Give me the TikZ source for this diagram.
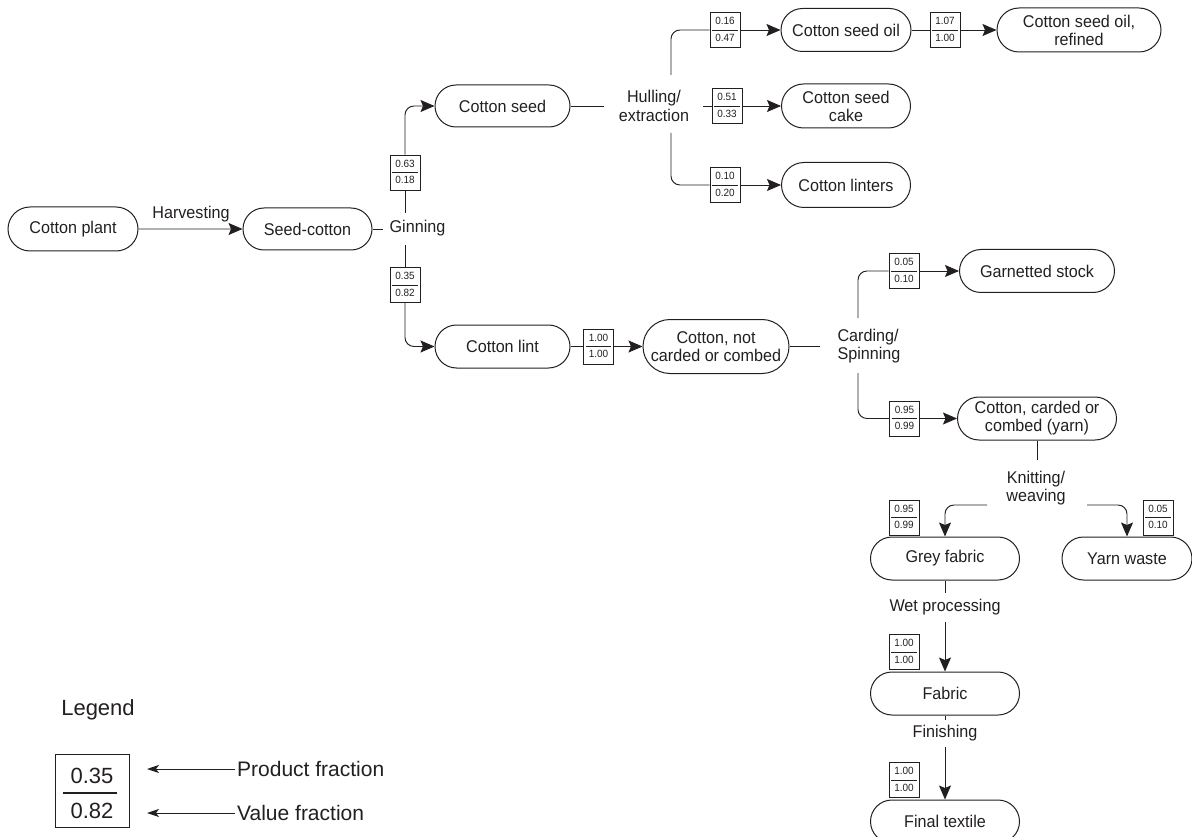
\documentclass[tikz,border=0pt]{standalone}
\usepackage{fontspec}
\setmainfont{Liberation Sans}[FakeStretch=0.95]
\newfontfamily\legfont{Liberation Sans}
\usetikzlibrary{shapes.misc,arrows.meta}
\definecolor{ink}{HTML}{231F20}
\setlength\arrayrulewidth{0.8pt}
\newcommand\frc[2]{\renewcommand\arraystretch{1.3}\begin{tabular}{@{\hspace{3pt}}c@{\hspace{3pt}}}#1\\\hline #2\end{tabular}}
\tikzset{
 proc/.style={draw=ink, rounded rectangle, line width=1pt, inner sep=0pt, align=center, font=\fontsize{17}{18}\selectfont, text=ink},
 lbl/.style={align=center, inner sep=0pt, font=\fontsize{17}{18.5}\selectfont, text=ink},
 fr/.style={draw=ink, line width=0.8pt, minimum width=30pt, minimum height=35pt, inner sep=0pt, font=\fontsize{10.5}{12}\selectfont, text=ink},
 ln/.style={draw=ink, line width=0.95pt},
 tip/.style={-{Stealth[length=14pt,width=12pt,inset=2.5pt]}},
 arr/.style={ln, tip},
 br/.style={ln, rounded corners=9pt},
 legarr/.style={ln, -{Stealth[length=12pt,width=8pt,inset=3pt]}},
 legtext/.style={inner sep=2pt, text=ink, font=\legfont\fontsize{21}{24}\selectfont},
}
\begin{document}
\begin{tikzpicture}[x=1pt,y=-1pt]
\useasboundingbox (0,0) rectangle (1192,837);
% first stage
\node[proc,minimum width=130pt,minimum height=44pt] (plant) at (73,229) {Cotton plant};
\node[proc,minimum width=129pt,minimum height=42pt] (seedc) at (307.5,229) {Seed-cotton};
\draw[arr] (plant) -- (seedc);
\node[lbl] (harv) at (191,214) {Harvesting};
\node[lbl] (ginning) at (417.5,228) {Ginning};
\coordinate (gstub) at (383,229);
\draw[ln] (seedc.east) -- (gstub);
\coordinate (gtop) at (405,213);
\coordinate (gbot) at (405,245);
\node[fr] (g1) at (405,172.5) {\frc{0.63}{0.18}};
\node[fr] (g2) at (405,285) {\frc{0.35}{0.82}};
\node[proc,minimum width=135pt,minimum height=42pt] (seed) at (502.5,106) {Cotton seed};
\node[proc,minimum width=135pt,minimum height=43pt] (lint) at (502.5,346.5) {Cotton lint};
\draw[ln] (gtop) -- (g1.south);
\draw[br,tip] (g1.north) |- (seed.west);
\draw[ln] (gbot) -- (g2.north);
\draw[br,tip] (g2.south) |- (lint.west);
% hulling
\node[lbl] (hull) at (654,106) {Hulling/\\extraction};
\coordinate (hin) at (604,106);
\draw[ln] (seed.east) -- (hin);
\coordinate (hup) at (671,75);
\coordinate (hdn) at (671,133);
\coordinate (hmid) at (703,106);
\node[fr] (h1) at (725,30) {\frc{0.16}{0.47}};
\node[fr] (h2) at (727,106) {\frc{0.51}{0.33}};
\node[fr] (h3) at (725,185) {\frc{0.10}{0.20}};
\node[proc,minimum width=130pt,minimum height=43pt] (oil) at (846,30) {Cotton seed oil};
\node[proc,minimum width=129pt,minimum height=44pt] (cake) at (846,106) {Cotton seed\\cake};
\node[proc,minimum width=129pt,minimum height=45pt] (linters) at (846,185) {Cotton linters};
\draw[br] (hup) |- (h1.west);
\draw[arr] (h1.east) -- (oil.west);
\draw[ln] (hmid) -- (h2.west);
\draw[arr] (h2.east) -- (cake.west);
\draw[br] (hdn) |- (h3.west);
\draw[arr] (h3.east) -- (linters.west);
\node[fr] (r1) at (945,30) {\frc{1.07}{1.00}};
\node[proc,minimum width=164pt,minimum height=44pt] (refined) at (1079,30) {Cotton seed oil,\\refined};
\draw[ln] (oil.east) -- (r1.west);
\draw[arr] (r1.east) -- (refined.west);
% lint
\node[fr] (l1) at (598.5,346.5) {\frc{1.00}{1.00}};
\node[proc,minimum width=146pt,minimum height=54pt] (notc) at (716,346.5) {Cotton, not\\carded or combed};
\draw[ln] (lint.east) -- (l1.west);
\draw[arr] (l1.east) -- (notc.west);
\coordinate (cin) at (820,346.5);
\draw[ln] (notc.east) -- (cin);
\node[lbl,align=left] (card) at (869,346) {Carding/\\Spinning};
\coordinate (cup) at (858,318);
\coordinate (cdn) at (858,373);
\node[fr] (c1) at (904,271) {\frc{0.05}{0.10}};
\node[fr] (c2) at (904.5,418.5) {\frc{0.95}{0.99}};
\node[proc,minimum width=155pt,minimum height=43pt] (garn) at (1037,271) {Garnetted stock};
\node[proc,minimum width=159pt,minimum height=43pt] (yarn) at (1037,418.5) {Cotton, carded or\\combed (yarn)};
\draw[br] (cup) |- (c1.west);
\draw[arr] (c1.east) -- (garn.west);
\draw[br] (cdn) |- (c2.west);
\draw[arr] (c2.east) -- (yarn.west);
% knitting
\coordinate (kin) at (1037,460);
\draw[ln] (yarn.south) -- (kin);
\node[lbl] (knit) at (1036,488) {Knitting/\\weaving};
\coordinate (kl) at (987,505);
\coordinate (kr) at (1087,505);
\node[proc,minimum width=149pt,minimum height=43pt] (grey) at (945,558.5) {Grey fabric};
\node[proc,minimum width=130pt,minimum height=43pt] (waste) at (1127,558.5) {Yarn waste};
\draw[br,tip] (kl) -| (grey.north);
\draw[br,tip] (kr) -| (waste.north);
\node[fr] (k1) at (904,517.5) {\frc{0.95}{0.99}};
\node[fr] (k2) at (1158,517.5) {\frc{0.05}{0.10}};
% wet processing / finishing
\coordinate (wstub) at (945,593);
\draw[ln] (grey.south) -- (wstub);
\node[lbl] (wet) at (945,607) {Wet processing};
\coordinate (wout) at (945,622);
\node[proc,minimum width=149pt,minimum height=43pt] (fabric) at (945,693.5) {Fabric};
\draw[arr] (wout) -- (fabric.north);
\node[fr] (f1) at (904,652) {\frc{1.00}{1.00}};
\coordinate (fstub) at (945,720);
\draw[ln] (fabric.south) -- (fstub);
\node[lbl] (fin) at (945,733) {Finishing};
\coordinate (fout) at (945,747);
\node[proc,minimum width=149pt,minimum height=43pt] (final) at (945,821.5) {Final textile};
\draw[arr] (fout) -- (final.north);
\node[fr] (f2) at (904,780) {\frc{1.00}{1.00}};
% legend
\node[legtext,inner sep=0pt,font=\legfont\fontsize{22}{26}\selectfont] (leg) at (98,710) {Legend};
\node[draw=ink,line width=1pt,minimum width=74pt,minimum height=73pt,inner sep=0pt] (legbox) at (92,790.5) {};
\node[legtext,font=\legfont\fontsize{22}{26}\selectfont] (lp) at (92,776) {0.35};
\node[legtext,font=\legfont\fontsize{22}{26}\selectfont] (lv) at (92,811) {0.82};
\coordinate (lr1) at (63,793);
\coordinate (lr2) at (117,793);
\draw[ln,line width=1.6pt] (lr1) -- (lr2);
\node[legtext,anchor=west] (pf) at (235,769) {Product fraction};
\node[legtext,anchor=west] (vf) at (235,813) {Value fraction};
\coordinate (pa) at (147,769);
\coordinate (va) at (147,813);
\draw[legarr] (pf.west) -- (pa);
\draw[legarr] (vf.west) -- (va);
\end{tikzpicture}
\end{document}
